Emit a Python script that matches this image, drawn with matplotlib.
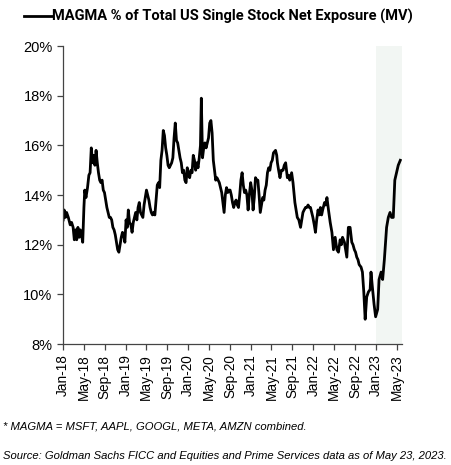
import numpy as np
import pandas as pd
import matplotlib
matplotlib.use('Agg')
import matplotlib.pyplot as plt
import matplotlib.dates as mdates
from matplotlib.ticker import FuncFormatter

# weekly-ish readings of MAGMA share (%)
dates_2018 = ['2018-01-02', '2018-01-08', '2018-01-15', '2018-01-22', '2018-02-01', '2018-02-12',
              '2018-02-20', '2018-03-01', '2018-03-08', '2018-03-15', '2018-03-22', '2018-03-29',
              '2018-04-05', '2018-04-12', '2018-04-19', '2018-04-26', '2018-05-03', '2018-05-08',
              '2018-05-15', '2018-05-24', '2018-06-01', '2018-06-08', '2018-06-15', '2018-06-22',
              '2018-06-29', '2018-07-06', '2018-07-13', '2018-07-20', '2018-07-27', '2018-08-03',
              '2018-08-10', '2018-08-17', '2018-08-24', '2018-08-31', '2018-09-07', '2018-09-14',
              '2018-09-21', '2018-09-28', '2018-10-05', '2018-10-12', '2018-10-19', '2018-10-26',
              '2018-11-02', '2018-11-09', '2018-11-16', '2018-11-23', '2018-11-30', '2018-12-07',
              '2018-12-14', '2018-12-21', '2018-12-28']
vals_2018 = [13.0, 13.4, 13.1, 13.3, 13.1, 12.8,
             12.9, 12.7, 12.2, 12.6, 12.2, 12.7,
             12.3, 12.6, 12.4, 12.1, 13.5, 14.2,
             13.9, 14.3, 14.8, 14.9, 15.9, 15.3,
             15.6, 15.2, 15.8, 15.3, 14.9, 14.6,
             14.5, 14.6, 14.2, 14.1, 13.8, 13.5,
             13.3, 13.1, 13.1, 13.0, 12.7, 12.6,
             12.4, 12.1, 11.8, 11.7, 12.0, 12.3,
             12.5, 12.4, 12.1]

dates_2019 = ['2019-01-04', '2019-01-11', '2019-01-17', '2019-01-24', '2019-02-01', '2019-02-08',
              '2019-02-15', '2019-02-22', '2019-03-01', '2019-03-08', '2019-03-15', '2019-03-22',
              '2019-03-29', '2019-04-05', '2019-04-12', '2019-04-19', '2019-04-26', '2019-05-03',
              '2019-05-10', '2019-05-17', '2019-05-24', '2019-05-31', '2019-06-07', '2019-06-14',
              '2019-06-21', '2019-06-28', '2019-07-05', '2019-07-12', '2019-07-19', '2019-07-26',
              '2019-08-02', '2019-08-09', '2019-08-16', '2019-08-23', '2019-08-30', '2019-09-06',
              '2019-09-13', '2019-09-20', '2019-09-27', '2019-10-04', '2019-10-11', '2019-10-18',
              '2019-10-25', '2019-11-01', '2019-11-08', '2019-11-15', '2019-11-22', '2019-11-29',
              '2019-12-06', '2019-12-13', '2019-12-20', '2019-12-27']
vals_2019 = [13.0, 12.7, 13.4, 12.9, 12.8, 12.5,
             12.9, 13.1, 13.3, 13.0, 13.5, 13.7,
             13.3, 13.2, 13.1, 13.6, 13.9, 14.2,
             14.0, 13.8, 13.5, 13.3, 13.2, 13.3,
             13.2, 13.8, 14.4, 14.5, 14.3, 15.4,
             15.8, 16.6, 16.4, 15.9, 15.6, 15.2,
             15.1, 15.2, 15.3, 15.5, 16.3, 16.9,
             16.2, 16.1, 15.8, 15.5, 15.3, 14.9,
             15.0, 14.6, 14.5, 15.1]

dates_2020 = ['2020-01-03', '2020-01-10', '2020-01-17', '2020-01-24', '2020-01-31', '2020-02-07',
              '2020-02-14', '2020-02-21', '2020-02-28', '2020-03-06', '2020-03-13', '2020-03-18',
              '2020-03-25', '2020-04-01', '2020-04-08', '2020-04-15', '2020-04-22', '2020-04-29',
              '2020-05-06', '2020-05-13', '2020-05-20', '2020-05-27', '2020-06-03', '2020-06-10',
              '2020-06-17', '2020-06-24', '2020-07-01', '2020-07-08', '2020-07-15', '2020-07-22',
              '2020-07-29', '2020-08-05', '2020-08-12', '2020-08-19', '2020-08-26', '2020-09-02',
              '2020-09-09', '2020-09-16', '2020-09-23', '2020-09-30', '2020-10-07', '2020-10-14',
              '2020-10-21', '2020-10-28', '2020-11-04', '2020-11-11', '2020-11-18', '2020-11-25',
              '2020-12-02', '2020-12-09', '2020-12-16', '2020-12-23', '2020-12-31']
vals_2020 = [14.8, 14.7, 15.0, 14.9, 15.6, 15.4,
             15.0, 15.3, 15.1, 15.5, 16.0, 17.9,
             15.5, 15.9, 16.1, 15.9, 16.1, 16.3,
             16.9, 17.0, 16.5, 15.4, 15.0, 14.6,
             14.7, 14.6, 14.5, 14.3, 14.1, 13.7,
             13.3, 14.0, 14.3, 14.1, 14.2, 14.2,
             14.0, 13.7, 13.5, 13.7, 13.8, 13.6,
             13.5, 14.0, 14.6, 14.9, 14.4, 14.1,
             14.2, 14.0, 13.4, 14.0, 14.5]

dates_2021 = ['2021-01-07', '2021-01-14', '2021-01-21', '2021-01-28', '2021-02-04', '2021-02-11',
              '2021-02-18', '2021-02-25', '2021-03-04', '2021-03-11', '2021-03-18', '2021-03-25',
              '2021-04-01', '2021-04-08', '2021-04-15', '2021-04-22', '2021-04-29', '2021-05-06',
              '2021-05-13', '2021-05-25', '2021-06-01', '2021-06-05', '2021-06-12', '2021-06-20',
              '2021-06-28', '2021-07-08', '2021-07-15', '2021-07-23', '2021-08-02', '2021-08-09',
              '2021-08-16', '2021-08-27', '2021-09-04', '2021-09-15', '2021-09-22', '2021-09-29',
              '2021-10-08', '2021-10-18', '2021-10-25', '2021-11-01', '2021-11-08', '2021-11-16',
              '2021-11-23', '2021-12-01', '2021-12-08', '2021-12-15', '2021-12-22', '2021-12-29']
vals_2021 = [14.2, 13.4, 13.9, 14.7, 14.6, 14.6,
             14.0, 13.3, 13.6, 13.9, 13.8, 14.2,
             14.4, 14.9, 15.1, 15.0, 15.3, 15.4,
             15.7, 15.8, 15.6, 15.3, 15.0, 14.7,
             15.0, 15.0, 15.2, 15.3, 14.7, 14.8,
             14.6, 14.9, 14.5, 13.7, 13.4, 13.1,
             13.0, 12.7, 13.0, 13.3, 13.4, 13.5,
             13.5, 13.6, 13.5, 13.5, 13.3, 13.1]

dates_2022 = ['2022-01-06', '2022-01-13', '2022-01-20', '2022-01-28', '2022-02-04', '2022-02-11',
              '2022-02-18', '2022-02-24', '2022-03-07', '2022-03-14', '2022-03-21', '2022-03-30',
              '2022-04-09', '2022-04-19', '2022-04-28', '2022-05-08', '2022-05-18', '2022-05-27',
              '2022-06-06', '2022-06-13', '2022-06-20', '2022-07-01', '2022-07-08', '2022-07-15',
              '2022-07-24', '2022-08-03', '2022-08-13', '2022-08-20', '2022-08-28', '2022-09-04',
              '2022-09-11', '2022-09-18', '2022-09-25', '2022-10-06', '2022-10-14', '2022-10-22',
              '2022-10-30', '2022-11-08', '2022-11-18', '2022-11-28', '2022-12-03', '2022-12-11',
              '2022-12-21', '2022-12-30']
vals_2022 = [12.8, 12.5, 13.0, 13.4, 13.2, 13.5,
             13.2, 13.4, 13.7, 13.6, 13.9, 13.4,
             12.9, 12.5, 11.8, 12.3, 11.8, 11.7,
             12.2, 12.0, 12.3, 12.1, 11.8, 11.5,
             12.7, 12.7, 12.1, 12.0, 11.8, 11.7,
             11.5, 11.4, 11.2, 11.1, 10.9, 10.1,
             9.0, 9.9, 10.1, 10.2, 10.9, 10.3,
             9.6, 9.1]

dates_2023 = ['2023-01-11', '2023-01-19', '2023-01-31', '2023-02-09', '2023-02-19', '2023-03-04',
              '2023-03-14', '2023-03-24', '2023-04-02', '2023-04-12', '2023-04-21', '2023-05-01',
              '2023-05-11', '2023-05-23']
vals_2023 = [9.4, 10.6, 10.9, 10.6, 11.4, 12.7,
             13.1, 13.3, 13.1, 13.1, 14.6, 14.9,
             15.2, 15.4]

dates = pd.to_datetime(dates_2018 + dates_2019 + dates_2020 + dates_2021 + dates_2022 + dates_2023)
vals = vals_2018 + vals_2019 + vals_2020 + vals_2021 + vals_2022 + vals_2023

tick_dates = pd.date_range('2018-01-01', '2023-05-01', freq='4MS')
shade_start = pd.Timestamp('2023-01-01')
x_end = pd.Timestamp('2023-06-01')

title = 'MAGMA % of Total US Single Stock Net Exposure (MV)'
note1 = '* MAGMA = MSFT, AAPL, GOOGL, META, AMZN combined.'
note2 = 'Source: Goldman Sachs FICC and Equities and Prime Services data as of May 23, 2023.'

fig = plt.figure(figsize=(4.51, 4.65), dpi=100)
ax = fig.add_axes([0.1397, 0.260, 0.891 - 0.1397, 0.641])

ax.axvspan(shade_start, x_end, color='#f2f6f3', zorder=0, lw=0)
line, = ax.plot(dates, vals, color='black', lw=2.0, label=title, solid_joinstyle='round')

ax.set_xlim(pd.Timestamp('2018-01-01'), x_end)
ax.set_ylim(8, 20)
ax.set_yticks(np.arange(8, 21, 2))
ax.yaxis.set_major_formatter(FuncFormatter(lambda v, p: f'{v:.0f}%'))
ax.set_xticks(tick_dates)
ax.xaxis.set_major_formatter(mdates.DateFormatter('%b-%y'))

for s in ['top', 'right']:
    ax.spines[s].set_visible(False)
for s in ['left', 'bottom']:
    ax.spines[s].set_color('#444444')
    ax.spines[s].set_linewidth(0.9)
ax.tick_params(axis='both', color='#444444', length=4, width=0.9)
for lbl in ax.get_yticklabels():
    lbl.set_fontfamily('Liberation Sans')
    lbl.set_fontsize(10.5)
for lbl in ax.get_xticklabels():
    lbl.set_fontfamily('Liberation Sans')
    lbl.set_fontsize(9.8)
    lbl.set_rotation(90)

fig.legend(handles=[line], loc='upper left', bbox_to_anchor=(0.025, 1.008), frameon=False,
           handlelength=1.9, handletextpad=0.0,
           prop={'family': 'Roboto', 'weight': 'bold', 'size': 10.5})

fig.text(0.007, 0.083, note1, fontsize=8.15, style='italic', family='Liberation Sans', va='center')
fig.text(0.007, 0.019, note2, fontsize=8.15, style='italic', family='Liberation Sans', va='center')

fig.savefig('out.png', dpi=100)
